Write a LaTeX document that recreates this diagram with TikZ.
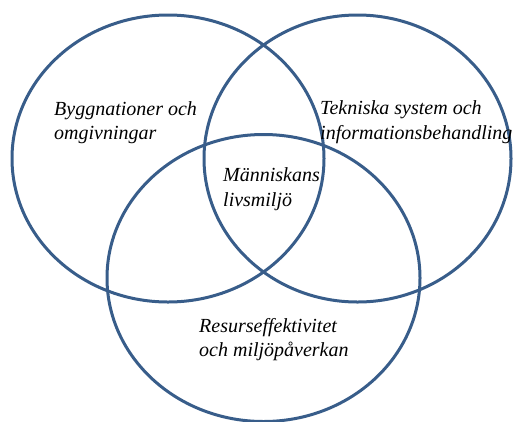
\documentclass[tikz,border=0pt]{standalone}
\usepackage{fontspec}
\setmainfont{Liberation Serif}
\definecolor{vennblue}{RGB}{56,93,138}
\begin{document}
\begin{tikzpicture}[x=1pt,y=-1pt,
  ring/.style={draw=vennblue,line width=3pt},
  lbl/.style={anchor=base west,inner sep=0pt,align=left,font=\fontsize{20}{24.5}\selectfont\itshape}]
\useasboundingbox (0,0) rectangle (513,421);
\draw[ring] (168,158.5) ellipse [x radius=156,y radius=143.5];
\draw[ring] (357.5,158.5) ellipse [x radius=153.5,y radius=143.5];
\draw[ring] (263.5,278) ellipse [x radius=156.5,y radius=143.5];
\node[lbl] (bygg) at (54,139.5) {Byggnationer och\\omgivningar};
\node[lbl] (tek) at (320,139) {Tekniska system och\\informationsbehandling};
\node[lbl] (man) at (223,206) {Människans\\livsmiljö};
\node[lbl] (res) at (199,356.5) {Resurseffektivitet\\och miljöpåverkan};
\end{tikzpicture}
\end{document}
